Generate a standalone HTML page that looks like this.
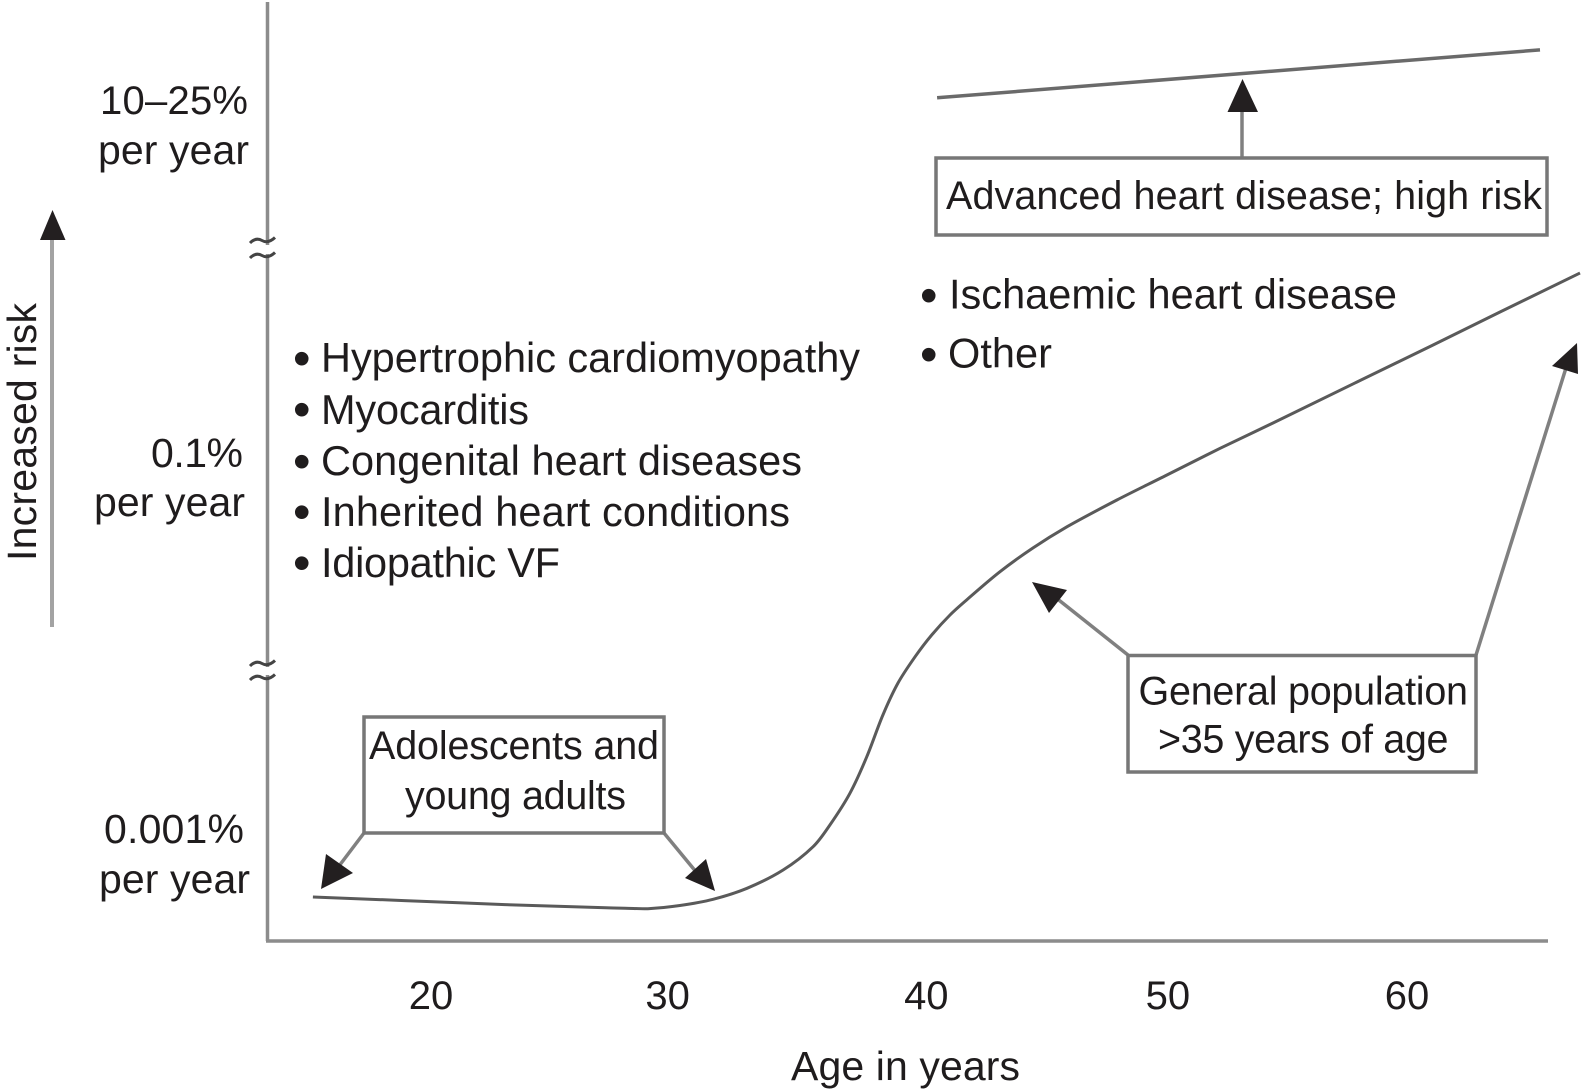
<!DOCTYPE html>
<html lang="en">
<head>
<meta charset="utf-8">
<title>Risk of sudden cardiac death by age</title>
<style>
  html, body { margin: 0; padding: 0; background: #fff; }
  svg { display: block; }
  text { font-family: "Liberation Sans", sans-serif; font-size: 40px; fill: #1f1c1d; }
  .f41 { font-size: 41px; }
  .f39 { font-size: 39.5px; }
  .list { font-size: 41.5px; }
  .bullet { font-size: 50px; }
  .axis { stroke: #8c8c8c; stroke-width: 3.5; fill: none; }
  .box { stroke: #777; stroke-width: 3.5; fill: #fff; }
  .lead { stroke: #808080; stroke-width: 3.5; fill: none; }
  .head { fill: #231f20; stroke: none; }
  .brk { stroke: #444; stroke-width: 3; fill: none; }
</style>
</head>
<body>
<svg id="chart" xmlns="http://www.w3.org/2000/svg" width="1583" height="1089" viewBox="0 0 1583 1089">
  <rect x="0" y="0" width="1583" height="1089" fill="#fff"/>

  <!-- Axes -->
  <line class="axis" x1="267.5" y1="2" x2="267.5" y2="941"/>
  <line class="axis" x1="266" y1="941" x2="1548" y2="941"/>

  <g>
    <rect x="255" y="245" width="25" height="9" fill="#fff"/>
    <path class="brk" d="M250,243 q6,-6 12,-2.5 t13,-3"/>
    <path class="brk" d="M250,258 q6,-6 12,-2.5 t13,-3"/>
  </g>
  <g>
    <rect x="255" y="667" width="25" height="8" fill="#fff"/>
    <path class="brk" d="M250,666 q6,-6 12,-2.5 t13,-3"/>
    <path class="brk" d="M250,680 q6,-6 12,-2.5 t13,-3"/>
  </g>

  <!-- Increased risk side arrow -->
  <line x1="52" y1="627" x2="52" y2="238" stroke="#a3a3a3" stroke-width="4"/>
  <polygon class="head" points="52.5,210 40,240 65.5,240"/>
  <text class="f41" transform="translate(36,561) rotate(-90)" textLength="258" lengthAdjust="spacing">Increased risk</text>

  <!-- Y tick labels -->
  <text x="100" y="114" textLength="148" lengthAdjust="spacing">10–25%</text>
  <text class="f41" x="98" y="164" textLength="151" lengthAdjust="spacing">per year</text>
  <text class="f41" x="151" y="467" textLength="92" lengthAdjust="spacing">0.1%</text>
  <text class="f41" x="94" y="516" textLength="151" lengthAdjust="spacing">per year</text>
  <text class="f41" x="104" y="843" textLength="140" lengthAdjust="spacing">0.001%</text>
  <text class="f41" x="99" y="893" textLength="151" lengthAdjust="spacing">per year</text>

  <!-- X title -->
  <text class="f41" x="791" y="1080" textLength="229" lengthAdjust="spacing">Age in years</text>

  <!-- Left list -->
  <g>
    <text class="bullet" x="293" y="375.5">•</text>
    <text class="list" x="321" y="372" textLength="539" lengthAdjust="spacing">Hypertrophic cardiomyopathy</text>
    <text class="bullet" x="293" y="426.5">•</text>
    <text class="list" x="321" y="424" textLength="208" lengthAdjust="spacing">Myocarditis</text>
    <text class="bullet" x="293" y="478.5">•</text>
    <text class="list" x="321" y="475" textLength="481" lengthAdjust="spacing">Congenital heart diseases</text>
    <text class="bullet" x="293" y="529">•</text>
    <text class="list" x="321" y="526" textLength="469" lengthAdjust="spacing">Inherited heart conditions</text>
    <text class="bullet" x="293" y="580">•</text>
    <text class="list" x="321" y="577" textLength="239" lengthAdjust="spacing">Idiopathic VF</text>
  </g>

  <!-- Right list -->
  <g>
    <text class="bullet" x="920" y="312.5">•</text>
    <text class="list" x="949" y="308.5" textLength="448" lengthAdjust="spacing">Ischaemic heart disease</text>
    <text class="bullet" x="920" y="371.5">•</text>
    <text class="list" x="948" y="367.5" textLength="104" lengthAdjust="spacing">Other</text>
  </g>

  <!-- Series and ticks are drawn here by the script -->
  <g id="marks"></g>
  <g id="ticks"></g>

  <!-- Advanced heart disease callout -->
  <g>
    <line class="lead" x1="1242" y1="158" x2="1242" y2="110"/>
    <polygon class="head" points="1242.5,79 1227.5,112 1258,112"/>
    <rect class="box" x="936" y="158" width="611" height="77"/>
    <text class="f39" x="946" y="209" textLength="596" lengthAdjust="spacing">Advanced heart disease; high risk</text>
  </g>

  <!-- Adolescents callout -->
  <g>
    <line class="lead" x1="364" y1="833" x2="336" y2="870"/>
    <line class="lead" x1="664" y1="833" x2="697" y2="873"/>
    <polygon class="head" points="321,889 326,854 353,873"/>
    <polygon class="head" points="715,891 706,859 685,878"/>
    <rect class="box" x="364" y="717" width="300" height="116"/>
    <text class="f39" x="369" y="759" textLength="290" lengthAdjust="spacing">Adolescents and</text>
    <text class="f39" x="405" y="809" textLength="221" lengthAdjust="spacing">young adults</text>
  </g>

  <!-- General population callout -->
  <g>
    <line class="lead" x1="1128" y1="655" x2="1055" y2="597"/>
    <line class="lead" x1="1476" y1="655" x2="1566" y2="368"/>
    <polygon class="head" points="1032,582 1067,590 1049,613"/>
    <polygon class="head" points="1577,343 1552,366 1578,374"/>
    <rect class="box" x="1128" y="655.5" width="348" height="116.5"/>
    <text class="f39" x="1138.5" y="704.5" textLength="329.5" lengthAdjust="spacing">General population</text>
    <text class="f39" x="1158" y="752.5" textLength="290.5" lengthAdjust="spacing">&gt;35 years of age</text>
  </g>
</svg>

<script>
// Chart values
var tickLabels = ['20', '30', '40', '50', '60'];
var tickAges = [20, 29.7, 40.3, 50.2, 60];

var generalAges = [15.16, 18.9, 23.03, 27.17, 27.95, 28.89, 30.2, 31.56, 32.95, 34.43, 35.66, 36.35, 37.17, 37.86, 38.52, 39.14, 39.84, 40.52, 41.27, 41.95, 43.32, 44.67, 46.07, 48.11, 50.16, 52.34, 54.51, 57.95, 61.07, 63.81, 67.09];
var generalRisk = [4.68, 4.3, 3.87, 3.53, 3.49, 3.44, 3.78, 4.44, 5.61, 7.55, 10.03, 12.34, 15.71, 19.61, 24.04, 27.45, 30.24, 32.55, 34.68, 36.28, 39.29, 41.81, 44.07, 46.91, 49.57, 52.41, 55.11, 59.47, 63.4, 66.91, 71.06];

var advancedAges = [40.74, 65.45];
var advancedRisk = [89.7, 94.8];

// Axis functions
function xScale(age) { return 431 + (age - 20) * 24.4; }
function yScale(risk) { return 941 - risk * 9.4; }

var NS = 'http://www.w3.org/2000/svg';

// Chord-length spline so unevenly spaced readings do not produce kinks
function smoothPath(xs, ys) {
  var pts = xs.map(function (a, i) { return [xScale(a), yScale(ys[i])]; });
  function dist(p, q) { return Math.hypot(q[0] - p[0], q[1] - p[1]) || 1; }
  function tangent(i) {
    var a = pts[Math.max(i - 1, 0)];
    var b = pts[Math.min(i + 1, pts.length - 1)];
    var len = dist(a, b);
    return [(b[0] - a[0]) / len, (b[1] - a[1]) / len];
  }
  var d = 'M' + pts[0][0].toFixed(1) + ',' + pts[0][1].toFixed(1);
  for (var i = 0; i < pts.length - 1; i++) {
    var p1 = pts[i];
    var p2 = pts[i + 1];
    var seg = dist(p1, p2) / 3;
    var t1 = tangent(i);
    var t2 = tangent(i + 1);
    d += ' C' + (p1[0] + t1[0] * seg).toFixed(1) + ',' + (p1[1] + t1[1] * seg).toFixed(1) +
         ' ' + (p2[0] - t2[0] * seg).toFixed(1) + ',' + (p2[1] - t2[1] * seg).toFixed(1) +
         ' ' + p2[0].toFixed(1) + ',' + p2[1].toFixed(1);
  }
  return d;
}

var marks = document.getElementById('marks');

var generalLine = document.createElementNS(NS, 'path');


generalLine.setAttribute('d', smoothPath(generalAges, generalRisk));
generalLine.setAttribute('fill', 'none');
generalLine.setAttribute('stroke', '#5a5a5a');
generalLine.setAttribute('stroke-width', '3');
marks.appendChild(generalLine);

var advancedLine = document.createElementNS(NS, 'path');


advancedLine.setAttribute('d', smoothPath(advancedAges, advancedRisk));
advancedLine.setAttribute('fill', 'none');
advancedLine.setAttribute('stroke', '#6a6a6a');
advancedLine.setAttribute('stroke-width', '3.5');
marks.appendChild(advancedLine);

var tickGroup = document.getElementById('ticks');
tickLabels.forEach(function (label, i) {
  var t = document.createElementNS(NS, 'text');
  
  
  t.setAttribute('x', xScale(tickAges[i]));
  t.setAttribute('y', 1009);
  t.setAttribute('text-anchor', 'middle');
  t.textContent = label;
  tickGroup.appendChild(t);
});
</script>
</body>
</html>
